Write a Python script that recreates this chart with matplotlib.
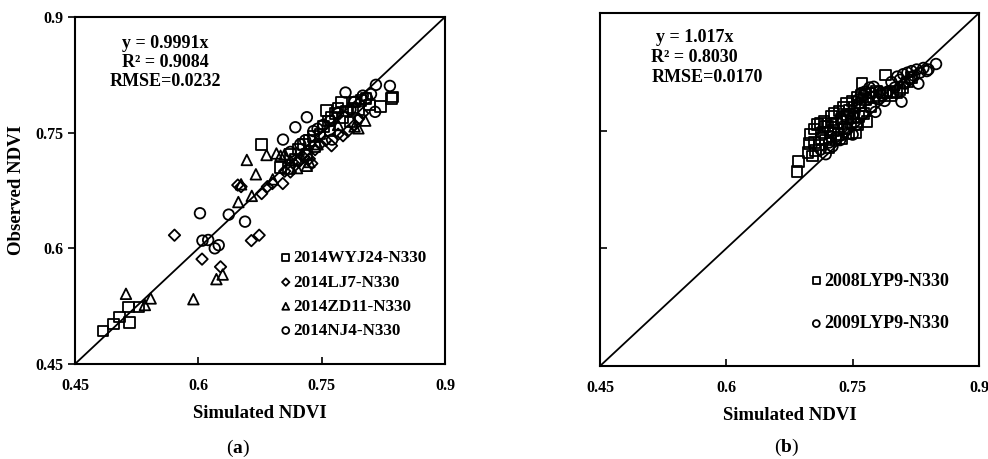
import matplotlib
matplotlib.use("Agg")
import matplotlib.pyplot as plt

plt.rcParams['font.family'] = ['Liberation Serif', 'DejaVu Serif']
plt.rcParams['font.weight'] = 'bold'
plt.rcParams['mathtext.fontset'] = 'custom'
plt.rcParams['mathtext.rm'] = 'Liberation Serif'
plt.rcParams['mathtext.bf'] = 'Liberation Serif:bold'

# ---------------- data: panel (a) ----------------
wyj24_x = [0.484, 0.497, 0.504, 0.516, 0.515, 0.528, 0.677, 0.700, 0.7095, 0.712, 0.718,
           0.722, 0.728, 0.732, 0.735, 0.740, 0.742, 0.748, 0.752, 0.756, 0.758, 0.760,
           0.762, 0.766, 0.770, 0.774, 0.776, 0.780, 0.7846, 0.788, 0.790, 0.795, 0.798,
           0.804, 0.808, 0.8215, 0.835, 0.836]
wyj24_y = [0.493, 0.502, 0.511, 0.504, 0.524, 0.524, 0.735, 0.705, 0.7037, 0.722, 0.715,
           0.728, 0.735, 0.722, 0.740, 0.745, 0.732, 0.748, 0.758, 0.779, 0.765, 0.753,
           0.770, 0.775, 0.782, 0.790, 0.770, 0.778, 0.764, 0.782, 0.790, 0.780, 0.792,
           0.794, 0.786, 0.7838, 0.7945, 0.796]

lj7_x = [0.571, 0.6045, 0.627, 0.6645, 0.674, 0.648, 0.652, 0.677, 0.684, 0.690, 0.7027,
         0.705, 0.712, 0.718, 0.722, 0.728, 0.730, 0.735, 0.738, 0.742, 0.748, 0.755,
         0.762, 0.770, 0.776, 0.782, 0.790, 0.795, 0.800]
lj7_y = [0.617, 0.586, 0.576, 0.610, 0.617, 0.682, 0.680, 0.671, 0.680, 0.684, 0.684,
         0.700, 0.699, 0.708, 0.712, 0.718, 0.724, 0.716, 0.710, 0.728, 0.735, 0.740,
         0.733, 0.748, 0.746, 0.752, 0.760, 0.768, 0.775]

zd11_x = [0.512, 0.535, 0.542, 0.594, 0.622, 0.6296, 0.6487, 0.659, 0.665, 0.670, 0.6905,
          0.683, 0.695, 0.700, 0.705, 0.712, 0.720, 0.732, 0.735, 0.745, 0.770, 0.7947,
          0.803, 0.790, 0.652]
zd11_y = [0.541, 0.5265, 0.535, 0.534, 0.560, 0.566, 0.660, 0.7146, 0.668, 0.696, 0.6894,
          0.721, 0.723, 0.720, 0.722, 0.714, 0.704, 0.707, 0.712, 0.735, 0.760, 0.7556,
          0.7656, 0.758, 0.683]

nj4_x = [0.602, 0.637, 0.6568, 0.605, 0.612, 0.620, 0.6248, 0.703, 0.718, 0.732, 0.7627,
         0.779, 0.816, 0.833, 0.815, 0.745, 0.752, 0.770, 0.785, 0.790, 0.800, 0.805,
         0.810, 0.730, 0.740, 0.760, 0.712, 0.724]
nj4_y = [0.6455, 0.6437, 0.6346, 0.610, 0.6108, 0.600, 0.604, 0.741, 0.757, 0.770, 0.741,
         0.802, 0.812, 0.8106, 0.777, 0.755, 0.760, 0.775, 0.780, 0.790, 0.798, 0.795,
         0.800, 0.740, 0.752, 0.765, 0.725, 0.735]

# ---------------- data: panel (b) ----------------
lyp08_x = [0.684, 0.686, 0.697, 0.698, 0.700, 0.702, 0.704, 0.706, 0.708, 0.710, 0.712,
           0.713, 0.715, 0.716, 0.718, 0.720, 0.722, 0.724, 0.725, 0.727, 0.728, 0.730,
           0.731, 0.733, 0.734, 0.736, 0.737, 0.739, 0.740, 0.742, 0.743, 0.745, 0.746,
           0.748, 0.749, 0.751, 0.752, 0.754, 0.755, 0.757, 0.758, 0.760, 0.761, 0.763,
           0.765, 0.767, 0.770, 0.772, 0.775, 0.778, 0.782, 0.786, 0.789, 0.790, 0.795,
           0.798, 0.802, 0.806, 0.810, 0.815, 0.820, 0.705, 0.717, 0.726, 0.744, 0.756]
lyp08_y = [0.698, 0.711, 0.722, 0.734, 0.745, 0.718, 0.752, 0.725, 0.758, 0.732, 0.760,
           0.740, 0.748, 0.762, 0.738, 0.756, 0.728, 0.748, 0.768, 0.750, 0.772, 0.738,
           0.760, 0.745, 0.775, 0.765, 0.740, 0.780, 0.752, 0.770, 0.785, 0.746, 0.776,
           0.760, 0.788, 0.766, 0.780, 0.748, 0.792, 0.768, 0.782, 0.795, 0.810, 0.772,
           0.790, 0.762, 0.798, 0.780, 0.792, 0.800, 0.795, 0.798, 0.821, 0.798, 0.795,
           0.800, 0.798, 0.802, 0.805, 0.812, 0.818, 0.735, 0.755, 0.760, 0.768, 0.758]

lyp09_x = [0.712, 0.718, 0.722, 0.726, 0.730, 0.735, 0.740, 0.744, 0.748, 0.750, 0.752,
           0.755, 0.758, 0.760, 0.762, 0.765, 0.768, 0.770, 0.772, 0.775, 0.777, 0.780,
           0.782, 0.785, 0.788, 0.792, 0.796, 0.800, 0.803, 0.806, 0.808, 0.810, 0.812,
           0.815, 0.818, 0.820, 0.823, 0.826, 0.828, 0.830, 0.834, 0.838, 0.840, 0.849,
           0.724, 0.738, 0.746, 0.757, 0.763]
lyp09_y = [0.726, 0.720, 0.735, 0.730, 0.742, 0.738, 0.748, 0.752, 0.765, 0.745, 0.772,
           0.758, 0.785, 0.798, 0.772, 0.800, 0.790, 0.805, 0.798, 0.806, 0.774, 0.790,
           0.800, 0.795, 0.788, 0.800, 0.812, 0.805, 0.819, 0.815, 0.787, 0.822, 0.810,
           0.824, 0.815, 0.826, 0.820, 0.828, 0.810, 0.824, 0.830, 0.826, 0.828, 0.835,
           0.742, 0.755, 0.772, 0.790, 0.795]

ticks = [0.45, 0.6, 0.75, 0.9]
tick_labels = ["0.45", "0.6", "0.75", "0.9"]
lims = [0.45, 0.9]

fig = plt.figure(figsize=(9.88, 4.59), dpi=100)
axA = fig.add_axes([0.0759, 0.207, 0.3745, 0.756])
axB = fig.add_axes([0.6073, 0.2026, 0.3836, 0.769])

mk = dict(facecolors='none', edgecolors='black', linewidths=1.3, s=58)

def style(ax):
    ax.set_xlim(lims)
    ax.set_ylim(lims)
    ax.plot(lims, lims, color='black', lw=1.3, zorder=1)
    ax.set_xticks(ticks)
    ax.set_xticklabels(tick_labels, fontsize=11.5, fontweight='bold')
    ax.set_yticks(ticks)
    for sp in ax.spines.values():
        sp.set_linewidth(1.5)
    ax.tick_params(axis='x', direction='in', length=5, width=1.2, pad=10)
    ax.set_xlabel("Simulated NDVI", fontsize=13.5, fontweight='bold', labelpad=8)

style(axA)
axA.set_yticklabels(tick_labels, fontsize=11.5, fontweight='bold')
axA.tick_params(axis='y', direction='out', length=5, width=1.2, pad=3)
axA.set_ylabel("Observed NDVI", fontsize=13.5, fontweight='bold', labelpad=8)

axA.scatter(wyj24_x, wyj24_y, marker='s', label='2014WYJ24-N330', zorder=3, **mk)
axA.scatter(lj7_x, lj7_y, marker='D', label='2014LJ7-N330', zorder=3,
            facecolors='none', edgecolors='black', linewidths=1.3, s=34)
axA.scatter(zd11_x, zd11_y, marker='^', label='2014ZD11-N330', zorder=3, **mk)
axA.scatter(nj4_x, nj4_y, marker='o', label='2014NJ4-N330', zorder=3, **mk)
axA.legend(loc='upper left', bbox_to_anchor=(0.535, 0.352), frameon=False,
           prop={'size': 12.3, 'weight': 'bold'}, handlelength=0.5, handletextpad=0.2,
           labelspacing=0.48, markerscale=0.65, borderpad=0)
axA.text(0.243, 0.925, "y = 0.9991x", transform=axA.transAxes, ha='center', va='center',
         fontsize=13, fontweight='bold')
axA.text(0.243, 0.870, "R² = 0.9084", transform=axA.transAxes, ha='center', va='center',
         fontsize=13, fontweight='bold')
axA.text(0.243, 0.813, "RMSE=0.0232", transform=axA.transAxes, ha='center', va='center',
         fontsize=13, fontweight='bold')

style(axB)
axB.set_yticklabels([])
axB.tick_params(axis='y', direction='in', length=5, width=1.2)
axB.scatter(lyp08_x, lyp08_y, marker='s', label='2008LYP9-N330', zorder=3, **mk)
axB.scatter(lyp09_x, lyp09_y, marker='o', label='2009LYP9-N330', zorder=3, **mk)
axB.legend(loc='upper left', bbox_to_anchor=(0.535, 0.29), frameon=False,
           prop={'size': 13, 'weight': 'bold'}, handlelength=0.5, handletextpad=0.2,
           labelspacing=1.42, markerscale=0.65, borderpad=0)
axB.text(0.148, 0.931, "y = 1.017x", transform=axB.transAxes, ha='left', va='center',
         fontsize=13, fontweight='bold')
axB.text(0.134, 0.874, "R² = 0.8030", transform=axB.transAxes, ha='left', va='center',
         fontsize=13, fontweight='bold')
axB.text(0.135, 0.818, "RMSE=0.0170", transform=axB.transAxes, ha='left', va='center',
         fontsize=13, fontweight='bold')

fig.text(238/988, 1 - 448/459, r"($\mathbf{a}$)", ha='center', va='center', fontsize=14,
         fontweight='normal')
fig.text(787/988, 1 - 447/459, r"($\mathbf{b}$)", ha='center', va='center', fontsize=14,
         fontweight='normal')

fig.savefig("out.png", dpi=100)
